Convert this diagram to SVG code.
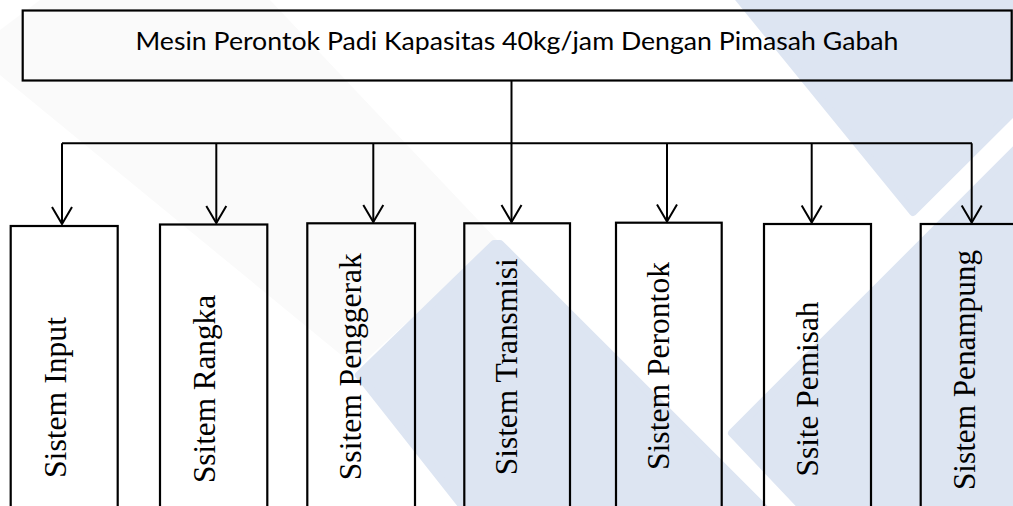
<svg xmlns="http://www.w3.org/2000/svg" width="1013" height="506" viewBox="0 0 1013 506">
<style>
.wm{fill:#dde5f2;stroke:#dde5f2;stroke-width:8;stroke-linejoin:round}
.wg{fill:#fafafa;stroke:none}
.box{fill:none;stroke:#000;stroke-width:2.2}
.ln{fill:none;stroke:#000;stroke-width:2}
.ttl{font-family:Lato,"Liberation Sans",sans-serif;font-size:25.5px;fill:#000}
.lbl{font-family:"Liberation Serif","Times New Roman",serif;font-size:32.5px;fill:#000}
</style>
<defs>
<marker id="arr" markerUnits="userSpaceOnUse" markerWidth="24" markerHeight="24" viewBox="-20 -12 24 24" refX="0" refY="0" orient="auto" overflow="visible">
<path d="M-17,-10 L0,0 L-17,10" fill="none" stroke="#000" stroke-width="2"/>
</marker>
</defs>
<rect width="1013" height="506" fill="#fff"/>
<g id="watermark">
<polygon class="wg" points="0,75 357,368 497,240 270,0 40,0 0,30"/>
<polygon class="wm" points="359,375 494,244 500,244 764,508 464,508"/>
<polygon class="wm" points="732,433 1017,148 1017,510 805,510"/>
<polygon class="wm" points="737,-4 913,212 1130,-4"/>
</g>
<g id="root">
<rect class="box" x="22.7" y="10.5" width="989" height="70"/>
<text class="ttl" x="517" y="49.5" text-anchor="middle" textLength="763" lengthAdjust="spacingAndGlyphs">Mesin Perontok Padi Kapasitas 40kg/jam Dengan Pimasah Gabah</text>
</g>
<g id="connectors">
<line class="ln" x1="511.5" y1="80.5" x2="511.5" y2="143"/>
<line class="ln" x1="62" y1="143.3" x2="972" y2="143.3"/>
<line class="ln" x1="62" y1="143.3" x2="62" y2="224" marker-end="url(#arr)"/>
<line class="ln" x1="216.3" y1="143.3" x2="216.3" y2="223" marker-end="url(#arr)"/>
<line class="ln" x1="373.3" y1="143.3" x2="373.3" y2="222" marker-end="url(#arr)"/>
<line class="ln" x1="511.5" y1="143" x2="511.5" y2="222" marker-end="url(#arr)"/>
<line class="ln" x1="667" y1="143.3" x2="667" y2="221.5" marker-end="url(#arr)"/>
<line class="ln" x1="811.7" y1="143.3" x2="811.7" y2="222.5" marker-end="url(#arr)"/>
<line class="ln" x1="971.7" y1="143.3" x2="971.7" y2="222.5" marker-end="url(#arr)"/>
</g>
<g id="n1">
<rect class="box" x="10.7" y="226" width="107" height="300"/>
<text class="lbl" transform="translate(66,397.5) rotate(-90)" text-anchor="middle" textLength="161" lengthAdjust="spacingAndGlyphs">Sistem Input</text>
</g>
<g id="n2">
<rect class="box" x="160" y="224.5" width="107.3" height="300"/>
<text class="lbl" transform="translate(214.5,389) rotate(-90)" text-anchor="middle" textLength="188" lengthAdjust="spacingAndGlyphs">Ssitem Rangka</text>
</g>
<g id="n3">
<rect class="box" x="307.3" y="223.3" width="107.7" height="300"/>
<text class="lbl" transform="translate(361,366.7) rotate(-90)" text-anchor="middle" textLength="227" lengthAdjust="spacingAndGlyphs">Ssitem Penggerak</text>
</g>
<g id="n4">
<rect class="box" x="464.3" y="223.3" width="105.7" height="300"/>
<text class="lbl" transform="translate(517,366.7) rotate(-90)" text-anchor="middle" textLength="217" lengthAdjust="spacingAndGlyphs">Sistem Transmisi</text>
</g>
<g id="n5">
<rect class="box" x="616" y="222.7" width="105.7" height="300"/>
<text class="lbl" transform="translate(668.5,366) rotate(-90)" text-anchor="middle" textLength="208" lengthAdjust="spacingAndGlyphs">Sistem Perontok</text>
</g>
<g id="n6">
<rect class="box" x="764" y="224" width="107" height="300"/>
<text class="lbl" transform="translate(817.5,389) rotate(-90)" text-anchor="middle" textLength="175" lengthAdjust="spacingAndGlyphs">Ssite Pemisah</text>
</g>
<g id="n7">
<rect class="box" x="920.7" y="224" width="107" height="300"/>
<text class="lbl" transform="translate(974.5,370) rotate(-90)" text-anchor="middle" textLength="240" lengthAdjust="spacingAndGlyphs">Sistem Penampung</text>
</g>
</svg>
